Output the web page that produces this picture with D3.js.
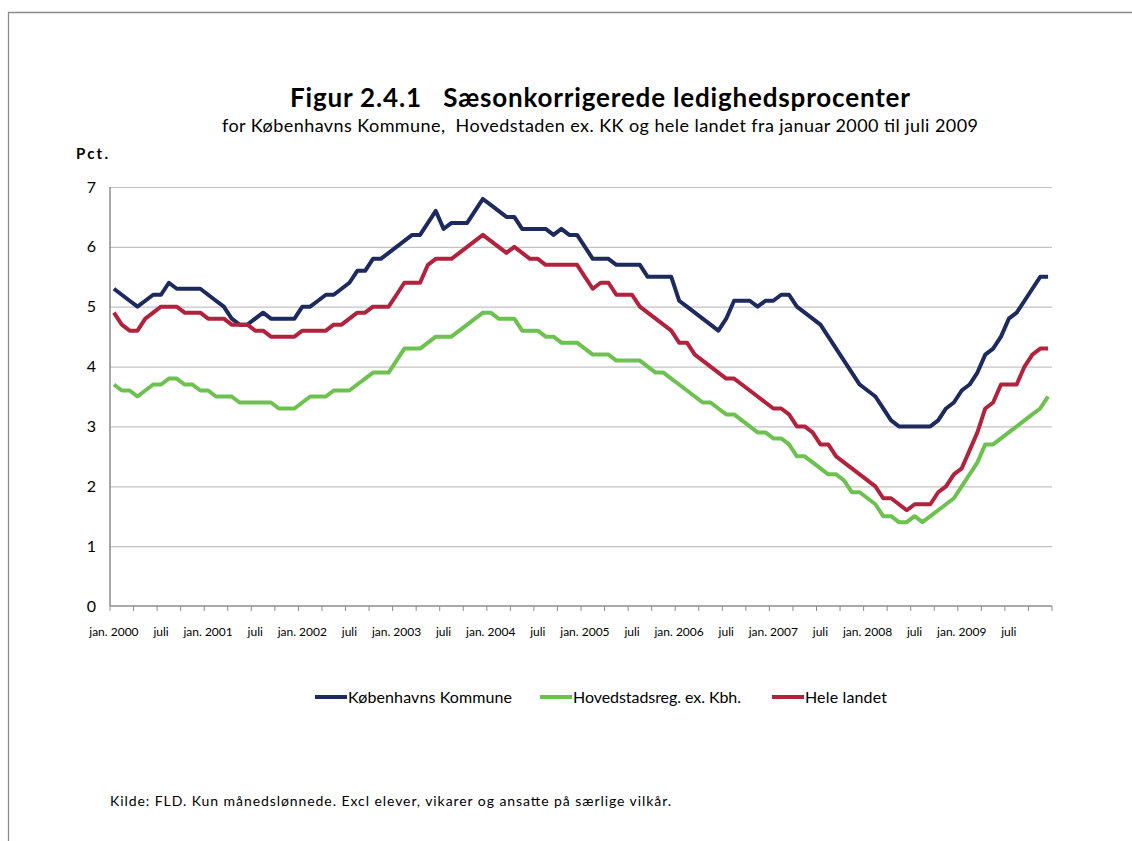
<!DOCTYPE html>
<html lang="da">
<head>
    <meta charset="UTF-8">
    <title>Figur 2.4.1</title>
    <script src="https://cdn.jsdelivr.net/npm/d3@7"></script>
    <style>
        body { margin: 0; background: #fff; }
        svg text { font-family: Lato, "Open Sans", sans-serif; fill: #000; }
    </style>
</head>
<body>
<div id="chart"></div>
<script>
    // monthly values, jan. 2000 .. dec. 2009 (120 months)
    var kbhKommune = [
        5.3, 5.2, 5.1, 5.0, 5.1, 5.2, 5.2, 5.4, 5.3, 5.3, 5.3, 5.3,
        5.2, 5.1, 5.0, 4.8, 4.7, 4.7, 4.8, 4.9, 4.8, 4.8, 4.8, 4.8,
        5.0, 5.0, 5.1, 5.2, 5.2, 5.3, 5.4, 5.6, 5.6, 5.8, 5.8, 5.9,
        6.0, 6.1, 6.2, 6.2, 6.4, 6.6, 6.3, 6.4, 6.4, 6.4, 6.6, 6.8,
        6.7, 6.6, 6.5, 6.5, 6.3, 6.3, 6.3, 6.3, 6.2, 6.3, 6.2, 6.2,
        6.0, 5.8, 5.8, 5.8, 5.7, 5.7, 5.7, 5.7, 5.5, 5.5, 5.5, 5.5,
        5.1, 5.0, 4.9, 4.8, 4.7, 4.6, 4.8, 5.1, 5.1, 5.1, 5.0, 5.1,
        5.1, 5.2, 5.2, 5.0, 4.9, 4.8, 4.7, 4.5, 4.3, 4.1, 3.9, 3.7,
        3.6, 3.5, 3.3, 3.1, 3.0, 3.0, 3.0, 3.0, 3.0, 3.1, 3.3, 3.4,
        3.6, 3.7, 3.9, 4.2, 4.3, 4.5, 4.8, 4.9, 5.1, 5.3, 5.5, 5.5
    ];
    var hovedstadsreg = [
        3.7, 3.6, 3.6, 3.5, 3.6, 3.7, 3.7, 3.8, 3.8, 3.7, 3.7, 3.6,
        3.6, 3.5, 3.5, 3.5, 3.4, 3.4, 3.4, 3.4, 3.4, 3.3, 3.3, 3.3,
        3.4, 3.5, 3.5, 3.5, 3.6, 3.6, 3.6, 3.7, 3.8, 3.9, 3.9, 3.9,
        4.1, 4.3, 4.3, 4.3, 4.4, 4.5, 4.5, 4.5, 4.6, 4.7, 4.8, 4.9,
        4.9, 4.8, 4.8, 4.8, 4.6, 4.6, 4.6, 4.5, 4.5, 4.4, 4.4, 4.4,
        4.3, 4.2, 4.2, 4.2, 4.1, 4.1, 4.1, 4.1, 4.0, 3.9, 3.9, 3.8,
        3.7, 3.6, 3.5, 3.4, 3.4, 3.3, 3.2, 3.2, 3.1, 3.0, 2.9, 2.9,
        2.8, 2.8, 2.7, 2.5, 2.5, 2.4, 2.3, 2.2, 2.2, 2.1, 1.9, 1.9,
        1.8, 1.7, 1.5, 1.5, 1.4, 1.4, 1.5, 1.4, 1.5, 1.6, 1.7, 1.8,
        2.0, 2.2, 2.4, 2.7, 2.7, 2.8, 2.9, 3.0, 3.1, 3.2, 3.3, 3.5
    ];
    var heleLandet = [
        4.9, 4.7, 4.6, 4.6, 4.8, 4.9, 5.0, 5.0, 5.0, 4.9, 4.9, 4.9,
        4.8, 4.8, 4.8, 4.7, 4.7, 4.7, 4.6, 4.6, 4.5, 4.5, 4.5, 4.5,
        4.6, 4.6, 4.6, 4.6, 4.7, 4.7, 4.8, 4.9, 4.9, 5.0, 5.0, 5.0,
        5.2, 5.4, 5.4, 5.4, 5.7, 5.8, 5.8, 5.8, 5.9, 6.0, 6.1, 6.2,
        6.1, 6.0, 5.9, 6.0, 5.9, 5.8, 5.8, 5.7, 5.7, 5.7, 5.7, 5.7,
        5.5, 5.3, 5.4, 5.4, 5.2, 5.2, 5.2, 5.0, 4.9, 4.8, 4.7, 4.6,
        4.4, 4.4, 4.2, 4.1, 4.0, 3.9, 3.8, 3.8, 3.7, 3.6, 3.5, 3.4,
        3.3, 3.3, 3.2, 3.0, 3.0, 2.9, 2.7, 2.7, 2.5, 2.4, 2.3, 2.2,
        2.1, 2.0, 1.8, 1.8, 1.7, 1.6, 1.7, 1.7, 1.7, 1.9, 2.0, 2.2,
        2.3, 2.6, 2.9, 3.3, 3.4, 3.7, 3.7, 3.7, 4.0, 4.2, 4.3, 4.3
    ];
    var tickLabels = [
        "jan. 2000", "juli", "jan. 2001", "juli", "jan. 2002", "juli",
        "jan. 2003", "juli", "jan. 2004", "juli", "jan. 2005", "juli",
        "jan. 2006", "juli", "jan. 2007", "juli", "jan. 2008", "juli",
        "jan. 2009", "juli"
    ];
    var yTicks = [0, 1, 2, 3, 4, 5, 6, 7];
    var seriesNames = ["Københavns Kommune", "Hovedstadsreg. ex. Kbh.", "Hele landet"];
    var seriesColors = ["#1c2a5e", "#6cc14f", "#b3223c"];

    var width = 1132, height = 841;
    var margin = {left: 110, right: 80, top: 187, bottom: 235};

    var svg = d3.select("#chart").append("svg")
        .attr("width", width).attr("height", height);

    // frame of the page
    svg.append("path")
        .attr("d", "M8.5," + height + "V12.5H" + width)
        .attr("fill", "none").attr("stroke", "#8a8a8a").attr("stroke-width", 1.3);

    var months = d3.range(kbhKommune.length);
    var x = d3.scaleBand().domain(months)
        .range([margin.left, width - margin.right]);
    var y = d3.scaleLinear().domain([0, 7])
        .range([height - margin.bottom, margin.top]);

    // gridlines
    svg.append("g")
        .attr("transform", "translate(" + margin.left + ",0)")
        .call(d3.axisLeft(y).tickValues(yTicks.slice(1)).tickSize(-(width - margin.left - margin.right)).tickFormat(""))
        .call(function (g) {
            g.select(".domain").remove();
            g.selectAll("line").attr("stroke", "#c3c3c3").attr("stroke-width", 1.2);
        });

    // y axis labels
    svg.append("g").selectAll("text")
        .data(yTicks).enter().append("text")
        .attr("x", 96).attr("y", function (d) { return y(d); })
        .attr("dy", "0.35em")
        .attr("text-anchor", "end")
        .style("font-size", "16px")
        .text(function (d) { return d; });

    // axis lines
    svg.append("line")
        .attr("x1", margin.left).attr("x2", margin.left)
        .attr("y1", y(7)).attr("y2", y(0))
        .attr("stroke", "#8c8c8c").attr("stroke-width", 1.5);
    svg.append("line")
        .attr("x1", margin.left).attr("x2", width - margin.right)
        .attr("y1", y(0)).attr("y2", y(0))
        .attr("stroke", "#8c8c8c").attr("stroke-width", 1.5);

    // minor ticks every 3 months
    var tickMonths = d3.range(0, months.length + 1, 3);
    svg.append("g").selectAll("line")
        .data(tickMonths).enter().append("line")
        .attr("x1", function (d) { return margin.left + d * x.step(); })
        .attr("x2", function (d) { return margin.left + d * x.step(); })
        .attr("y1", y(0)).attr("y2", y(0) + 5)
        .attr("stroke", "#8c8c8c").attr("stroke-width", 1);

    // x labels every 6 months
    svg.append("g").selectAll("text")
        .data(tickLabels).enter().append("text")
        .attr("x", function (d, i) { return x(i * 6) + x.bandwidth() / 2; })
        .attr("y", 636)
        .attr("text-anchor", "middle")
        .style("font-size", "12px")
        .text(function (d) { return d; });

    // lines
    var line = d3.line()
        .x(function (d, i) { return x(i) + x.bandwidth() / 2; })
        .y(function (d) { return y(d); });
    var allSeries = [kbhKommune, hovedstadsreg, heleLandet];
    svg.append("g").selectAll("path")
        .data(allSeries).enter().append("path")
        .attr("d", line)
        .attr("fill", "none")
        .attr("stroke", function (d, i) { return seriesColors[i]; })
        .attr("stroke-width", 4)
        .attr("stroke-linejoin", "round");

    // titles
    svg.append("text")
        .attr("x", 290).attr("y", 107)
        .attr("textLength", 620).attr("lengthAdjust", "spacing")
        .style("font-size", "26px").style("font-weight", "bold")
        .attr("xml:space", "preserve")
        .text("Figur 2.4.1   Sæsonkorrigerede ledighedsprocenter");
    svg.append("text")
        .attr("x", 222).attr("y", 132)
        .attr("textLength", 756).attr("lengthAdjust", "spacing")
        .style("font-size", "18px")
        .attr("xml:space", "preserve")
        .text("for Københavns Kommune,  Hovedstaden ex. KK og hele landet fra januar 2000 til juli 2009");
    svg.append("text")
        .attr("x", 76).attr("y", 159)
        .attr("textLength", 32).attr("lengthAdjust", "spacing")
        .style("font-size", "15px").style("font-weight", "bold")
        .text("Pct.");

    // legend
    var legendX = [315, 540, 772];
    var legendW = [164, 168, 82];
    var legend = svg.append("g").selectAll("g")
        .data(seriesNames).enter().append("g")
        .attr("transform", function (d, i) { return "translate(" + legendX[i] + ",697)"; });
    legend.append("line")
        .attr("x1", 0).attr("x2", 32)
        .attr("stroke", function (d, i) { return seriesColors[i]; })
        .attr("stroke-width", 4);
    legend.append("text")
        .attr("x", 33).attr("dy", "0.35em")
        .attr("textLength", function (d, i) { return legendW[i]; })
        .attr("lengthAdjust", "spacing")
        .style("font-size", "16px")
        .text(function (d) { return d; });

    // source
    svg.append("text")
        .attr("x", 110).attr("y", 806)
        .attr("textLength", 561).attr("lengthAdjust", "spacing")
        .style("font-size", "14px")
        .text("Kilde: FLD. Kun månedslønnede. Excl elever, vikarer og ansatte på særlige vilkår.");
</script>
</body>
</html>
